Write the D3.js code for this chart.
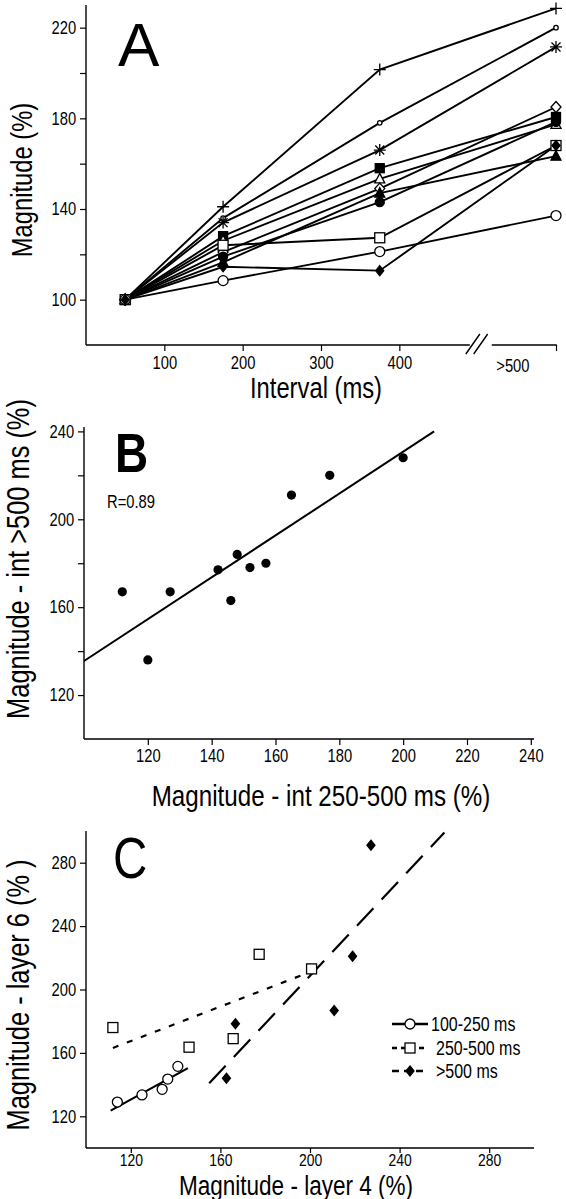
<!DOCTYPE html>
<html><head><meta charset="utf-8">
<script src="https://cdn.jsdelivr.net/npm/d3@7"></script>
<style>
body{margin:0;background:#fff;}
svg{display:block;}
text{font-family:'Liberation Sans',Arial,sans-serif;fill:#000;}
</style></head>
<body>
<svg id="chart" width="566" height="1199"></svg>
<script>
// ---------- Panel A data ----------
const intervals = [50, 175, 375, 600];          // 600 = ">500" category position
const xTicksA = [100, 200, 300, 400];
const yTicksA = [100, 120, 140, 160, 180, 200, 220];
const yLabelsA = [100, 140, 180, 220];
const sPlus          = [100, 141,   201.5, 228.5];
const sDot           = [100, 136,   178,   220];
const sAsterisk      = [100, 134,   166,   211.5];
const sFilledSquare  = [100, 128,   158,   180.6];
const sOpenTriangle  = [100, 126,   153.3, 177.3];
const sOpenDiamond   = [100, 121,   149,   185];
const sFilledTriangle= [100, 116.5, 147,   163.3];
const sFilledCircle  = [100, 119,   143,   178.4];
const sOpenSquare    = [100, 124,   127.3, 168];
const sOpenCircle    = [100, 108.4, 121.2, 137.1];
const sFilledDiamond = [100, 114.5, 112.8, 168];

// ---------- Panel B data ----------
const bX = [112, 120, 127, 142, 146, 148, 152, 157, 165, 177, 200];
const bY = [167, 136, 167, 177, 163, 184, 178, 180, 211, 220, 228];
const bFit = [[100, 135.5], [209.7, 240]];
const xTicksB = [120, 140, 160, 180, 200, 220, 240];
const yTicksB = [120, 140, 160, 180, 200, 220, 240];
const yLabelsB = [120, 160, 200, 240];

// ---------- Panel C data ----------
const c1X = [114, 125, 134, 136.5, 141];
const c1Y = [129, 133.5, 137, 143.5, 151.5];
const c2X = [112, 146, 165.7, 177.3, 200.7];
const c2Y = [176, 163.6, 169, 222.2, 213];
const c3X = [162.7, 166.7, 210.8, 219, 227.2];
const c3Y = [144, 178.4, 186.7, 221, 291];
const c1Fit = [[111, 123.6], [145.5, 150.4]];
const c2Fit = [[112, 163.1], [205.5, 214]];
const c3Fit = [[155, 140.8], [260, 299]];
const cTicks = [120, 160, 200, 240, 280];
const legendC = ["100-250 ms", "250-500 ms", ">500 ms"];

const svg = d3.select("#chart");
const TICK_FONT = 18, NARROW = 0.82;

// condensed text helper (emulates a narrow typeface)
function ntext(g, x, y, str, size, opts = {}) {
  const rot = opts.rotate ? ` rotate(${opts.rotate})` : "";
  const sx = opts.sx == null ? NARROW : opts.sx;
  return g.append("text")
    .attr("transform", `translate(${x},${y})${rot} scale(${sx},1)`)
    .attr("text-anchor", opts.anchor || "start")
    .attr("font-size", size)
    .attr("font-weight", opts.weight || "normal")
    .text(str);
}

function marker(g, type, x, y) {
  const s = g.append("g").attr("transform", `translate(${x},${y})`);
  const app = (tag, attrs, fill) => { const e = s.append(tag); Object.entries(attrs).forEach(([k,v])=>e.attr(k,v)); e.attr("fill", fill).attr("stroke","#000").attr("stroke-width",1.3); return e; };
  switch (type) {
    case "plus": app("path", {d:"M-6,0H6M0,-6V6"}, "none"); break;
    case "asterisk": app("path", {d:"M-6,0H6M0,-6V6M-4.5,-4.5L4.5,4.5M-4.5,4.5L4.5,-4.5"}, "none"); break;
    case "dot": app("circle", {r:2.2}, "#fff"); break;
    case "fsquare": app("rect", {x:-4.5,y:-4.5,width:9,height:9}, "#000"); break;
    case "osquare": app("rect", {x:-5,y:-5,width:10,height:10}, "#fff"); break;
    case "otriangle": app("path", {d:"M0,-5.5L5,4L-5,4Z"}, "#fff"); break;
    case "ftriangle": app("path", {d:"M0,-5.5L5,4L-5,4Z"}, "#000"); break;
    case "odiamond": app("path", {d:"M0,-5.5L5,0L0,5.5L-5,0Z"}, "#fff"); break;
    case "fdiamond": app("path", {d:"M0,-5L4,0L0,5L-4,0Z"}, "#000"); break;
    case "fcircle": app("circle", {r:4.5}, "#000"); break;
    case "ocircle": app("circle", {r:5}, "#fff"); break;
  }
}

function styleAxis(g) {
  g.selectAll("path.domain").attr("stroke","#000").attr("stroke-width",1.4);
  g.selectAll(".tick line").attr("stroke","#000").attr("stroke-width",1.2);
  g.selectAll(".tick text").attr("font-size",TICK_FONT)
    .attr("font-family","'Liberation Sans',Arial,sans-serif").attr("fill","#000")
    .attr("transform",`scale(${NARROW},1)`);
}

// ================= Panel A =================
const xA = d3.scaleLinear().domain([0, 600]).range([86, 556]);
const yA = d3.scaleLinear().domain([80, 230]).range([345, 5]);
const gA = svg.append("g");

const yAxA = gA.append("g").attr("transform",`translate(${xA(0)},0)`)
  .call(d3.axisLeft(yA).tickValues(yTicksA).tickSize(6).tickPadding(6)
        .tickFormat(d => yLabelsA.includes(d) ? d : ""));
yAxA.select("path.domain").attr("d", `M0,${yA(80)}V${yA(230)}`);
styleAxis(yAxA);

const xAxA = gA.append("g").attr("transform",`translate(0,${yA(80)})`)
  .call(d3.axisBottom(xA).tickValues([...xTicksA, 600]).tickSize(6).tickPadding(5)
        .tickFormat(d => d === 600 ? "" : d));
xAxA.select("path.domain").remove();
styleAxis(xAxA);
xAxA.append("path").attr("d", `M${xA(0)},0H${xA(490)}M${xA(518)},0H${xA(601)}`)
  .attr("stroke","#000").attr("stroke-width",1.4).attr("fill","none");
xAxA.append("path").attr("d", `M${xA(490)-4},9L${xA(490)+10},-11M${xA(500)-4},9L${xA(500)+10},-11`)
  .attr("stroke","#000").attr("stroke-width",1.4).attr("fill","none");
ntext(xAxA, xA(545), 27, ">500", TICK_FONT, {anchor:"middle"});

const seriesA = [
  [sPlus,"plus"],[sDot,"dot"],[sAsterisk,"asterisk"],[sFilledSquare,"fsquare"],
  [sOpenTriangle,"otriangle"],[sOpenDiamond,"odiamond"],[sFilledTriangle,"ftriangle"],
  [sFilledCircle,"fcircle"],[sOpenSquare,"osquare"],[sOpenCircle,"ocircle"],[sFilledDiamond,"fdiamond"]
];
const lineA = d3.line().x((d,i)=>xA(intervals[i])).y(d=>yA(d));
seriesA.forEach(([vals]) => {
  gA.append("path").attr("d", lineA(vals)).attr("fill","none").attr("stroke","#000").attr("stroke-width",1.9);
});
seriesA.forEach(([vals,type]) => {
  vals.forEach((v,i) => marker(gA, type, xA(intervals[i]), yA(v)));
});

ntext(gA, 118, 66, "A", 62, {sx:1});
ntext(gA, 32, 180, "Magnitude (%)", 29, {rotate:-90, anchor:"middle"});
ntext(gA, 316, 398, "Interval (ms)", 29, {anchor:"middle"});

// ================= Panel B =================
const xB = d3.scaleLinear().domain([100, 241]).range([84, 534]);
const yB = d3.scaleLinear().domain([100, 242]).range([739, 427]);
const gB = svg.append("g");

const yAxB = gB.append("g").attr("transform",`translate(${xB(100)},0)`)
  .call(d3.axisLeft(yB).tickValues(yTicksB).tickSize(6).tickPadding(6)
        .tickFormat(d => yLabelsB.includes(d) ? d : ""));
styleAxis(yAxB);
const xAxB = gB.append("g").attr("transform",`translate(0,${yB(100)})`)
  .call(d3.axisBottom(xB).tickValues(xTicksB).tickSize(6).tickPadding(4));
styleAxis(xAxB);
yAxB.select("path.domain").attr("d", `M0,${yB(100)}V${yB(242)}`);
xAxB.select("path.domain").attr("d", `M${xB(100)},0H${xB(241)}`);

gB.append("path").attr("d", d3.line().x(d=>xB(d[0])).y(d=>yB(d[1]))(bFit))
  .attr("stroke","#000").attr("stroke-width",2).attr("fill","none");
bX.forEach((x,i) => gB.append("circle").attr("cx",xB(x)).attr("cy",yB(bY[i])).attr("r",4.6).attr("fill","#000"));

ntext(gB, 115, 472, "B", 56, {weight:"bold"});
ntext(gB, 107, 508, "R=0.89", 18);
ntext(gB, 29, 559, "Magnitude - int >500 ms (%)", 31, {rotate:-90, anchor:"middle"});
ntext(gB, 321, 806, "Magnitude - int 250-500 ms (%)", 29.5, {anchor:"middle"});

// ================= Panel C =================
const xC = d3.scaleLinear().domain([100, 300]).range([86, 534]);
const yC = d3.scaleLinear().domain([100, 300]).range([1148, 831]);
const gC = svg.append("g");

const yAxC = gC.append("g").attr("transform",`translate(${xC(100)},0)`)
  .call(d3.axisLeft(yC).tickValues(cTicks).tickSize(6).tickPadding(6));
styleAxis(yAxC);
yAxC.select("path.domain").attr("d", `M0,${yC(100)}V${yC(300)}`);
const xAxC = gC.append("g").attr("transform",`translate(0,${yC(100)})`)
  .call(d3.axisBottom(xC).tickValues(cTicks).tickSize(5).tickPadding(1));
styleAxis(xAxC);
xAxC.selectAll(".tick text").attr("font-size",17);
xAxC.select("path.domain").attr("d", `M${xC(100)},0H${xC(300)}`);

const lineC = d3.line().x(d=>xC(d[0])).y(d=>yC(d[1]));
gC.append("path").attr("d", lineC(c1Fit)).attr("stroke","#000").attr("stroke-width",2.2).attr("fill","none");
gC.append("path").attr("d", lineC(c2Fit)).attr("stroke","#000").attr("stroke-width",2.2).attr("fill","none").attr("stroke-dasharray","6,9");
gC.append("path").attr("d", lineC(c3Fit)).attr("stroke","#000").attr("stroke-width",2.2).attr("fill","none").attr("stroke-dasharray","24,12");

c1X.forEach((x,i) => marker(gC, "ocircle", xC(x), yC(c1Y[i])));
c2X.forEach((x,i) => marker(gC, "osquare", xC(x), yC(c2Y[i])));
c3X.forEach((x,i) => marker(gC, "fdiamond", xC(x), yC(c3Y[i])));

// legend
const legY = [1024, 1048, 1071];
const legDash = [null, "5,4", "7,5"];
const legMark = ["ocircle", "osquare", "fdiamond"];
legendC.forEach((t,i) => {
  gC.append("path").attr("d", `M392,${legY[i]}H428`).attr("stroke","#000").attr("stroke-width",2.4)
    .attr("stroke-dasharray", legDash[i]);
  marker(gC, legMark[i], 410, legY[i]);
  ntext(gC, i===0 ? 431 : 436, legY[i]+7, t, 19.5);
});

ntext(gC, 113, 878, "C", 58);
ntext(gC, 29, 995, "Magnitude - layer 6 (% )", 31, {rotate:-90, anchor:"middle"});
ntext(gC, 296, 1195, "Magnitude - layer 4 (%)", 27.5, {anchor:"middle"});
</script>
</body></html>
